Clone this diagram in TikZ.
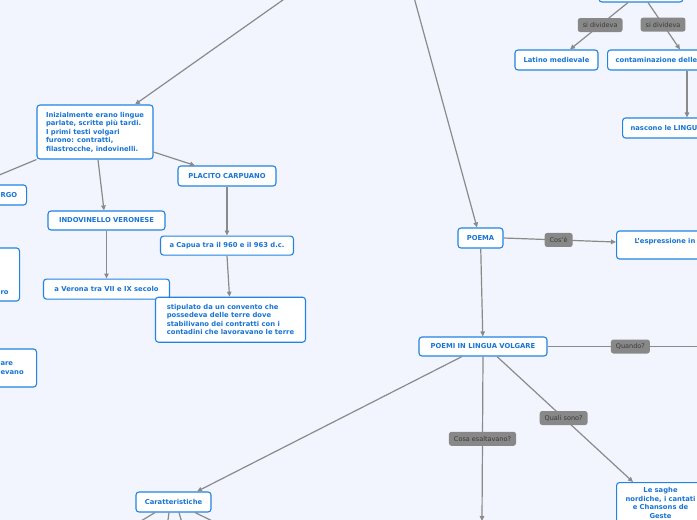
\documentclass[tikz,border=0pt]{standalone}
\usepackage{fontspec}
\setmainfont{DejaVu Sans}
\usepackage{tikz}
\usetikzlibrary{arrows.meta,positioning}
\definecolor{mapbg}{RGB}{242,245,254}
\definecolor{mapblue}{RGB}{33,131,226}
\definecolor{maptext}{RGB}{24,116,212}
\definecolor{mapline}{RGB}{138,138,138}
\definecolor{tagfill}{RGB}{136,136,136}
\definecolor{tagtext}{RGB}{58,58,58}

\begin{document}
\begin{tikzpicture}[
    x=1pt, y=-1pt,
    concept/.style={draw=mapblue, rectangle, rounded corners=3pt, fill=white, line width=1.1pt, text=maptext, inner sep=3pt, font=\fontsize{6.8}{8.5}\selectfont\bfseries, minimum height=20pt},
    tag/.style={rectangle, rounded corners=2.5pt, fill=tagfill, text=tagtext, inner xsep=5pt, minimum height=14pt, font=\fontsize{6.5}{8}\selectfont},
    link/.style={-{Triangle[length=5pt,width=4.5pt]}, line width=1.2pt, color=mapline},
    bareline/.style={line width=1.2pt, color=mapline}
]

\useasboundingbox (0,0) rectangle (697,520);
\fill[mapbg] (0,0) rectangle (697,520);
\clip (0,0) rectangle (697,520);

% Latino branch (top right)
\node[concept, minimum width=84pt, minimum height=22pt] (topbox) at (641,-9) {};
\node[concept, minimum width=83pt] (latino) at (556.5,60) {Latino medievale};
\node[concept, anchor=west, text width=120pt, align=left, inner xsep=8pt] (contam) at (607,60) {contaminazione delle};
\node[concept, anchor=west, text width=120pt, align=left, inner xsep=8pt] (nascono) at (622,128) {nascono le LINGU};

% primi testi volgari
\node[concept, align=left, minimum width=116pt, minimum height=54pt] (iniz) at (95,132) {Inizialmente erano lingue\\parlate, scritte più tardi.\\I primi testi volgari\\furono: contratti,\\filastrocche, indovinelli.};
\node[concept, anchor=west, text width=18pt, align=left, inner xsep=8pt] (rgo) at (-8,195) {RGO};
\node[concept, minimum width=117pt, minimum height=19pt] (indov) at (106.5,220.5) {INDOVINELLO VERONESE};
\node[concept, below=48pt of indov, minimum width=126pt] (verona) {a Verona tra VII e IX secolo};
\node[concept, minimum width=98pt] (placito) at (227,176) {PLACITO CARPUANO};
\node[concept, below=49pt of placito, minimum width=133pt, minimum height=19pt] (capua) {a Capua tra il 960 e il 963 d.c.};
\node[concept, below=41pt of capua, xshift=3.5pt, align=left, minimum width=150pt, minimum height=45pt] (stip) {stipulato da un convento che\\possedeva delle terre dove\\stabilivano dei contratti con i\\contadini che lavoravano le terre};
\node[concept, anchor=west, text width=11pt, align=left, inner xsep=8pt, minimum height=53pt] (lbox) at (-8,274.5) {~\\~\\~\\~\\[6pt]ro};
\node[concept, anchor=west, text width=28pt, align=left, inner xsep=8pt, minimum height=38pt] (pbox) at (-8,368) {are\\evano};

% poema
\node[concept, minimum width=45pt] (poema) at (480.5,238) {POEMA};
\node[concept, anchor=west, minimum height=28pt, text width=100pt, align=left, inner xsep=18pt] (espr) at (616,245) {L'espressione in\\~};
\node[concept, minimum width=128pt, minimum height=19pt] (poemi) at (483,346.5) {POEMI IN LINGUA VOLGARE};
\node[concept, minimum width=75pt] (caratt) at (173.5,502) {Caratteristiche};
\node[concept, anchor=north west, text width=72pt, align=center, inner xsep=8pt, inner ysep=5pt] (saghe) at (616,482) {Le saghe\\nordiche, i cantati\\e Chansons de\\Geste};

% ends outside the frame
\coordinate (offA) at (297,-10);
\coordinate (offB) at (412,-10);
\coordinate (offQ) at (710,346.5);
\coordinate (offE) at (482,521);
\coordinate (offC1) at (126,530);
\coordinate (offC2) at (166.6,530);
\coordinate (offC3) at (184,530);
\coordinate (offC4) at (231,530);

\draw[link] (offA) -- ([xshift=40pt]iniz.north);
\draw[link] (offB) -- ([xshift=-3.5pt]poema.north);
\draw[link] ([xshift=-13pt]topbox.south) -- node[tag, pos=0.48] {si divideva} ([xshift=13.5pt]latino.north);
\draw[link] ([xshift=7pt]topbox.south) -- node[tag, pos=0.47] {si divideva} ([xshift=73pt]contam.north west);
\draw[link] ([xshift=80pt]contam.south west) -- ([xshift=65pt]nascono.north west);

\draw[link] (iniz.south west) -- ([xshift=-33pt]rgo.north);
\draw[link] ([xshift=3pt]iniz.south) -- ([xshift=-2.5pt]indov.north);
\draw[link] ([yshift=-20pt]iniz.east) -- ([xshift=-32pt]placito.north);
\draw[link] (placito) -- (capua);
\draw[link] (capua.south) -- ([xshift=-1pt]stip.north);
\draw[link] (indov) -- (verona);

\draw[link] (poema.east) -- node[tag, pos=0.49] {Cos'è} ([yshift=3pt]espr.west);
\draw[link] (poema) -- (poemi);
\draw[bareline] (poemi.east) -- node[tag, pos=0.51] {Quando?} (offQ);
\draw[link] ([xshift=-21pt]poemi.south) -- ([xshift=23.5pt]caratt.north);
\draw[link] (poemi.south) -- node[tag, pos=0.5] {Cosa esaltavano?} (offE);
\draw[link] ([xshift=14pt]poemi.south) -- node[tag, pos=0.49] {Quali sono?} ([xshift=17pt]saghe.north west);
\foreach \dx/\tgt in {-18.5/offC1, -4.5/offC2, 5.5/offC3, 21.5/offC4}
    \draw[link] ([xshift=\dx pt]caratt.south) -- (\tgt);

\end{tikzpicture}
\end{document}
